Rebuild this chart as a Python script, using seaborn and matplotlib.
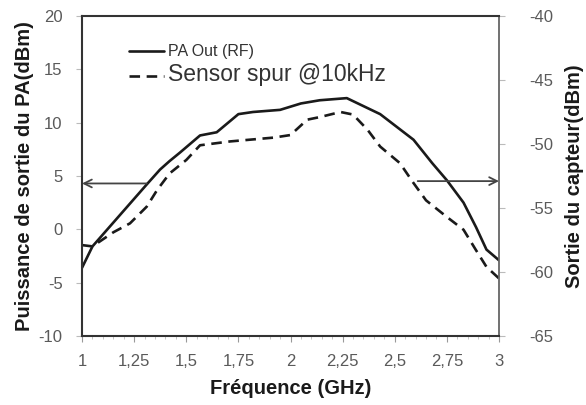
import numpy as np
import pandas as pd
import seaborn as sns
import matplotlib
matplotlib.use("Agg")
import matplotlib.pyplot as plt
from matplotlib.lines import Line2D
from matplotlib.ticker import FuncFormatter, MultipleLocator

# ---- data ----
pa_freq = [1.0, 1.05, 1.31, 1.374, 1.42, 1.47, 1.566, 1.646, 1.75, 1.82, 1.95,
           2.05, 2.14, 2.27, 2.43, 2.59, 2.68, 2.75, 2.83, 2.89, 2.94, 3.0]
pa_out = [-3.6, -1.6, 4.2, 5.6, 6.4, 7.2, 8.8, 9.1, 10.8, 11.0, 11.2,
          11.8, 12.1, 12.3, 10.8, 8.4, 6.2, 4.6, 2.5, 0.2, -1.9, -2.9]

spur_freq = [1.0, 1.05, 1.15, 1.23, 1.31, 1.36, 1.42, 1.50, 1.566, 1.71, 1.92,
             2.0, 2.08, 2.14, 2.24, 2.3, 2.37, 2.43, 2.525, 2.59, 2.65, 2.75,
             2.83, 2.89, 2.94, 3.0]
spur_out = [-57.9, -58.0, -56.9, -56.2, -54.9, -53.6, -52.3, -51.25, -50.1, -49.8, -49.5,
            -49.3, -48.1, -47.9, -47.5, -47.7, -48.9, -50.2, -51.5, -53.05, -54.4, -55.7,
            -56.7, -58.3, -59.6, -60.5]

x_ticks = [1.0, 1.25, 1.5, 1.75, 2.0, 2.25, 2.5, 2.75, 3.0]
left_ticks = [-10, -5, 0, 5, 10, 15, 20]
right_ticks = [-65, -60, -55, -50, -45, -40]

label_pa = "PA Out (RF)"
label_spur = "Sensor spur @10kHz"
xlabel = "Fréquence (GHz)"
ylabel_left = "Puissance de sortie du PA(dBm)"
ylabel_right = "Sortie du capteur(dBm)"

# arrows (data values)
left_arrow_y = 4.3
left_arrow_x = (1.31, 1.0)
right_arrow_y = -52.9
right_arrow_x = (2.61, 3.0)

sns.set_style("white")
plt.rcParams['font.family'] = ['Liberation Sans', 'DejaVu Sans']
plt.rcParams['axes.unicode_minus'] = False

fig = plt.figure(figsize=(5.86, 4.05), dpi=100)
ax = fig.add_axes([0.14, 0.1704, 0.7115, 0.7901])
ax2 = ax.twinx()

df_pa = pd.DataFrame({"f": pa_freq, "v": pa_out})
df_sp = pd.DataFrame({"f": spur_freq, "v": spur_out})

sns.lineplot(data=df_pa, x="f", y="v", ax=ax, color="#1a1a1a", lw=1.9, legend=False)
sns.lineplot(data=df_sp, x="f", y="v", ax=ax2, color="#1a1a1a", lw=1.9,
             legend=False)
ax2.lines[0].set_dashes([4, 2.5])

ax.set_xlim(1, 3)
ax.set_ylim(-10, 20)
ax2.set_ylim(-65, -40)

tick_col = "#5a5a5a"
comma = FuncFormatter(lambda v, p: ("%g" % v).replace(".", ","))
ax.set_xticks(x_ticks)
ax.xaxis.set_major_formatter(comma)
ax.xaxis.set_minor_locator(MultipleLocator(0.05))
ax.set_yticks(left_ticks)
ax2.set_yticks(right_ticks)

ax.tick_params(axis='x', which='major', direction='out', length=4, width=0.8,
               color="#999999", labelsize=12, labelcolor=tick_col, pad=9, bottom=True)
ax.tick_params(axis='x', which='minor', direction='out', length=2.5, width=0.6,
               color="#bbbbbb", bottom=True)
ax.tick_params(axis='y', direction='out', length=4, width=0.8, color="#bbbbbb",
               labelsize=12, labelcolor=tick_col, pad=10, left=True)
ax2.tick_params(axis='y', direction='out', length=4, width=0.8, color="#bbbbbb",
                labelsize=12, labelcolor=tick_col, pad=18, right=True)

for s in ax.spines.values():
    s.set_visible(False)
for name, s in ax2.spines.items():
    s.set_visible(True)
    s.set_linewidth(1.5)
    s.set_color("#333333")
ax2.spines['right'].set_color("#666666")
ax2.spines['right'].set_linewidth(1.3)

ax.set_xlabel(xlabel, fontsize=14.5, fontweight='bold', color="#1a1a1a", labelpad=7)
ax.set_ylabel(ylabel_left, fontsize=14.5, fontweight='bold', color="#1a1a1a", labelpad=3)
ax2.set_ylabel(ylabel_right, fontsize=14.5, fontweight='bold', color="#1a1a1a", labelpad=8)

# arrows
ax.annotate("", xy=(left_arrow_x[1], left_arrow_y), xytext=(left_arrow_x[0], left_arrow_y),
            arrowprops=dict(arrowstyle="->", color="#444444", lw=1.3,
                            shrinkA=0, shrinkB=0, mutation_scale=14))
ax2.annotate("", xy=(right_arrow_x[1], right_arrow_y), xytext=(right_arrow_x[0], right_arrow_y),
             arrowprops=dict(arrowstyle="->", color="#444444", lw=1.3,
                             shrinkA=0, shrinkB=0, mutation_scale=14))

# legend
handles = [Line2D([], [], color="#1a1a1a", lw=1.9),
           Line2D([], [], color="#1a1a1a", lw=1.9, dashes=[4, 2.5])]
leg = ax2.legend(handles, [label_pa, label_spur], loc='upper left',
                 bbox_to_anchor=(0.1, 0.93), frameon=False, handlelength=2.5,
                 handletextpad=0.3, labelspacing=0.3, borderaxespad=0)
leg.get_texts()[0].set_fontsize(11.5)
leg.get_texts()[0].set_color("#333333")
leg.get_texts()[1].set_fontsize(16.5)
leg.get_texts()[1].set_color("#333333")

fig.savefig("out.png", dpi=100)
